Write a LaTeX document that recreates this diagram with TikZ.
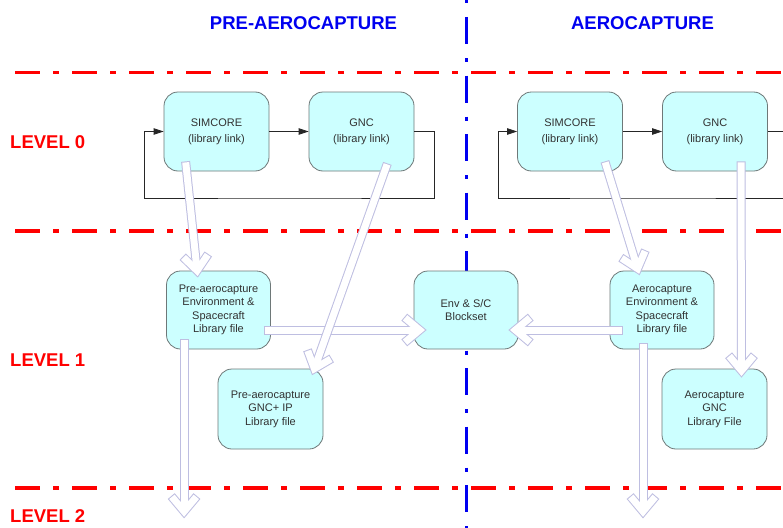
\documentclass[tikz,border=0pt]{standalone}
\usepackage{fontspec}
\setmainfont{Liberation Sans}
\usetikzlibrary{calc,arrows.meta}
\definecolor{boxfill}{RGB}{204,255,255}
\definecolor{boxline}{RGB}{110,120,120}
\definecolor{arrlav}{RGB}{190,190,225}
\definecolor{txtgray}{RGB}{50,50,50}
\definecolor{lvlred}{RGB}{255,0,0}
\definecolor{ttlblue}{RGB}{0,0,240}
\tikzset{
  lib/.style={draw=boxline, line width=0.8pt, fill=boxfill, rounded corners=14pt,
    align=center, inner sep=0pt, text=txtgray},
  libtop/.style={lib, minimum width=105pt, minimum height=79pt,
    font=\fontsize{11}{16}\selectfont},
  libmid/.style={lib, minimum width=104pt, minimum height=78pt,
    font=\fontsize{11}{13.5}\selectfont},
  fb/.style={draw=black!85, line width=0.8pt},
  fbarrow/.style={fb, -{Triangle[length=10pt,width=6.5pt]}},
  redline/.style={draw=lvlred, line width=3.5pt, dash pattern=on 25pt off 13pt on 6pt off 13pt},
  blueline/.style={draw=ttlblue, line width=3.5pt, dash pattern=on 27pt off 14pt on 4pt off 13.5pt},
  lvl/.style={text=lvlred, font=\fontsize{18.5}{20}\selectfont\bfseries, anchor=west, inner sep=0pt},
  ttl/.style={text=ttlblue, font=\fontsize{18.5}{20}\selectfont\bfseries, inner sep=0pt},
  fatouter/.style={draw=arrlav, line width=9pt, line join=miter, line cap=butt},
  fatinner/.style={draw=white, line width=7pt, line join=miter, line cap=butt}
}
\newcommand\fatarrow[2]{%
  \draw[fatouter] (#1) -- (#2);
  \draw[fatouter] ($(#2)!20pt!40:(#1)$) -- (#2) -- ($(#2)!20pt!-40:(#1)$);
  \draw[fatinner, shorten <=1pt] (#1) -- (#2);
  \draw[fatinner, shorten <=1pt, shorten >=1pt] ($(#2)!20pt!40:(#1)$) -- (#2) -- ($(#2)!20pt!-40:(#1)$);
}
\begin{document}
\begin{tikzpicture}[x=1pt,y=-1pt]
\useasboundingbox (0,0) rectangle (783,527);
\clip (0,0) rectangle (783,527);
\fill[white] (0,0) rectangle (783,527);

% level separators
\draw[redline] (15,72.5) -- (783,72.5);
\draw[redline] (15,231) -- (783,231);
\draw[redline] (15,488) -- (783,488);
\draw[blueline] (466.5,-41.5) -- (466.5,530);

% titles and levels
\node[ttl] (tpre) at (303.5,23.5) {PRE-AEROCAPTURE};
\node[ttl] (taero) at (642.5,23.5) {AEROCAPTURE};
\node[lvl] (l0) at (10,142) {LEVEL 0};
\node[lvl] (l1) at (10,360) {LEVEL 1};
\node[lvl] (l2) at (10,516.5) {LEVEL 2};

% level 0
\node[libtop] (simL) at (216.5,131.5) {SIMCORE\\(library link)};
\node[libtop] (gncL) at (361.5,131.5) {GNC\\(library link)};
\node[libtop] (simR) at (570,131.5) {SIMCORE\\(library link)};
\node[libtop] (gncR) at (715,131.5) {GNC\\(library link)};

\draw[fbarrow] (simL.east) -- (gncL.west);
\draw[fbarrow] (gncL.east) -- ++(20,0) |- (290,198) -| ($(simL.west)+(-19,0)$) -- (simL.west);
\draw[fbarrow] (simR.east) -- (gncR.west);
\draw[fbarrow] (gncR.east) -- ++(25,0) |- (640,198) -| ($(simR.west)+(-19,0)$) -- (simR.west);

% level 1
\node[libmid] (envL) at (218.5,310) {Pre-aerocapture\\Environment \&\\Spacecraft\\Library file};
\node[libmid, minimum height=80pt, minimum width=105pt] (gncipL) at (270.5,409) {Pre-aerocapture\\GNC+ IP\\Library file};
\node[libmid] (blk) at (466,310) {Env \& S/C\\Blockset};
\node[libmid] (envR) at (662,310) {Aerocapture\\Environment \&\\Spacecraft\\Library file};
\node[libmid, minimum height=80pt, minimum width=105pt] (gncRf) at (714.5,409) {Aerocapture\\GNC\\Library File};

% fat hollow arrows
\coordinate (a3s) at ($(envL.east)+(-7,20)$);
\coordinate (a3t) at ($(blk.west)+(6,20)$);
\fatarrow{a3s}{a3t}
\coordinate (a5s) at ($(envR.west)+(13,20)$);
\coordinate (a5t) at ($(blk.east)+(-3,20)$);
\fatarrow{a5s}{a5t}
\coordinate (a1s) at ($(simL.south west)+(22,-10)$);
\coordinate (a1t) at ($(envL.north west)+(31,0)$);
\fatarrow{a1s}{a1t}
\coordinate (a2s) at ($(gncL.south east)+(-27,-8)$);
\coordinate (a2t) at ($(gncipL.north east)+(-9,0)$);
\fatarrow{a2s}{a2t}
\coordinate (a4s) at ($(envL.south west)+(18,-10)$);
\coordinate (a4t) at ($(envL.south west)+(18,162)$);
\fatarrow{a4s}{a4t}
\coordinate (a6s) at ($(simR.south east)+(-18,-10)$);
\coordinate (a6t) at ($(envR.north west)+(28,-2)$);
\fatarrow{a6s}{a6t}
\coordinate (a7s) at ($(gncR.south)+(26,-10)$);
\coordinate (a7t) at ($(gncRf.north)+(27,2)$);
\fatarrow{a7s}{a7t}
\coordinate (a8s) at ($(envR.south)+(-19,-6)$);
\coordinate (a8t) at ($(envR.south)+(-19,162)$);
\fatarrow{a8s}{a8t}
\end{tikzpicture}
\end{document}
